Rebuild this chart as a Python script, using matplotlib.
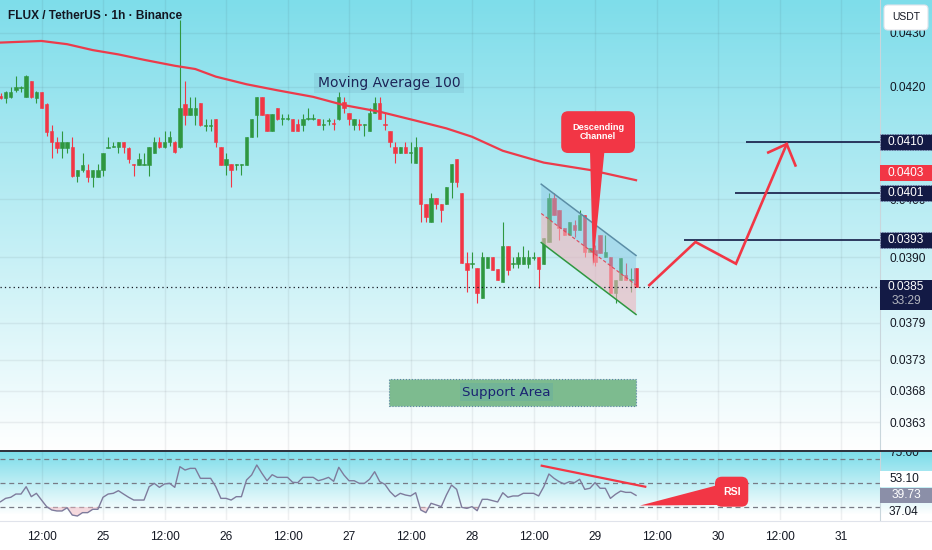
import numpy as np
import matplotlib
matplotlib.use("Agg")
import matplotlib.pyplot as plt
import matplotlib.patches as mpatches
import matplotlib.transforms as mtransforms
from matplotlib.lines import Line2D
from matplotlib.ticker import FixedLocator, NullLocator, FuncFormatter

plt.rcParams['font.family'] = ['Liberation Sans', 'DejaVu Sans']

########################
# chart data (1h bars) #
########################

first_hour = 4  # first bar: day 24, 04:00 (hours counted from day 24 00:00)

opens = [
    0.04184, 0.04180, 0.04182, 0.04195, 0.04198, 0.04182, 0.04211, 0.04180, 0.04191, 0.04169,
    0.04120, 0.04101, 0.04090, 0.04090, 0.04092, 0.04040, 0.04051, 0.04051, 0.04039, 0.04039,
    0.04051, 0.04090, 0.04092, 0.04092, 0.04101, 0.04090, 0.04062, 0.04060, 0.04060, 0.04060,
    0.04081, 0.04101, 0.04092, 0.04101, 0.04101, 0.04092, 0.04169, 0.04149, 0.04149, 0.04171,
    0.04129, 0.04129, 0.04142, 0.04092, 0.04060, 0.04062, 0.04060, 0.04060, 0.04060, 0.04110,
    0.04149, 0.04182, 0.04151, 0.04120, 0.04162, 0.04142, 0.04142, 0.04142, 0.04133, 0.04131,
    0.04142, 0.04142, 0.04142, 0.04131, 0.04138, 0.04135, 0.04142, 0.04173, 0.04153, 0.04131,
    0.04133, 0.04131, 0.04120, 0.04153, 0.04171, 0.04133, 0.04120, 0.04092, 0.04081, 0.04092,
    0.04081, 0.04063, 0.04092, 0.03991, 0.03960, 0.04002, 0.03991, 0.03991, 0.04030, 0.04070,
    0.04011, 0.03890, 0.03889, 0.03882, 0.03831, 0.03882, 0.03900, 0.03880, 0.03858, 0.03919,
    0.03889, 0.03889, 0.03889, 0.03889, 0.03899, 0.03900, 0.03889, 0.03926, 0.04002, 0.03981,
    0.03950, 0.03938, 0.03955, 0.03947, 0.03972, 0.03909, 0.03912, 0.03938, 0.03900, 0.03900,
    0.03840, 0.03862, 0.03870, 0.03862, 0.03882,
]
highs = [
    0.04189, 0.04193, 0.04200, 0.04220, 0.04202, 0.04222, 0.04211, 0.04193, 0.04191, 0.04171,
    0.04131, 0.04110, 0.04120, 0.04101, 0.04110, 0.04051, 0.04081, 0.04062, 0.04051, 0.04062,
    0.04081, 0.04110, 0.04101, 0.04101, 0.04101, 0.04092, 0.04062, 0.04081, 0.04081, 0.04092,
    0.04110, 0.04110, 0.04120, 0.04120, 0.04102, 0.04324, 0.04211, 0.04182, 0.04182, 0.04171,
    0.04142, 0.04142, 0.04142, 0.04092, 0.04081, 0.04062, 0.04062, 0.04062, 0.04110, 0.04142,
    0.04182, 0.04182, 0.04151, 0.04151, 0.04162, 0.04151, 0.04151, 0.04142, 0.04142, 0.04151,
    0.04162, 0.04151, 0.04142, 0.04142, 0.04144, 0.04142, 0.04191, 0.04182, 0.04153, 0.04142,
    0.04142, 0.04133, 0.04162, 0.04182, 0.04182, 0.04153, 0.04120, 0.04101, 0.04092, 0.04101,
    0.04101, 0.04110, 0.04092, 0.03991, 0.04011, 0.04002, 0.03991, 0.04021, 0.04062, 0.04070,
    0.04011, 0.03909, 0.03909, 0.03882, 0.03909, 0.03900, 0.03900, 0.03880, 0.03960, 0.03919,
    0.03900, 0.03909, 0.03919, 0.03912, 0.03909, 0.03900, 0.03933, 0.04011, 0.04011, 0.03981,
    0.03950, 0.03960, 0.03964, 0.03981, 0.03972, 0.03916, 0.03921, 0.03938, 0.03938, 0.03900,
    0.03862, 0.03899, 0.03890, 0.03882, 0.03882,
]
lows = [
    0.04178, 0.04171, 0.04180, 0.04191, 0.04191, 0.04182, 0.04180, 0.04171, 0.04162, 0.04111,
    0.04072, 0.04081, 0.04072, 0.04081, 0.04039, 0.04030, 0.04047, 0.04030, 0.04021, 0.04039,
    0.04040, 0.04090, 0.04092, 0.04081, 0.04081, 0.04063, 0.04040, 0.04060, 0.04060, 0.04040,
    0.04081, 0.04090, 0.04090, 0.04094, 0.04081, 0.04090, 0.04131, 0.04149, 0.04131, 0.04129,
    0.04120, 0.04120, 0.04092, 0.04060, 0.04042, 0.04021, 0.04051, 0.04042, 0.04060, 0.04110,
    0.04110, 0.04149, 0.04120, 0.04120, 0.04140, 0.04131, 0.04140, 0.04120, 0.04120, 0.04120,
    0.04140, 0.04140, 0.04131, 0.04122, 0.04131, 0.04122, 0.04140, 0.04153, 0.04131, 0.04122,
    0.04122, 0.04111, 0.04120, 0.04153, 0.04142, 0.04122, 0.04092, 0.04063, 0.04081, 0.04081,
    0.04063, 0.04063, 0.03960, 0.03960, 0.03960, 0.03983, 0.03960, 0.03991, 0.04002, 0.04021,
    0.03890, 0.03841, 0.03882, 0.03823, 0.03831, 0.03882, 0.03878, 0.03862, 0.03858, 0.03870,
    0.03882, 0.03882, 0.03889, 0.03882, 0.03895, 0.03848, 0.03889, 0.03926, 0.03972, 0.03929,
    0.03938, 0.03938, 0.03935, 0.03947, 0.03900, 0.03909, 0.03885, 0.03907, 0.03900, 0.03840,
    0.03823, 0.03862, 0.03862, 0.03841, 0.03850,
]
closes = [
    0.04180, 0.04191, 0.04191, 0.04200, 0.04200, 0.04220, 0.04182, 0.04191, 0.04162, 0.04119,
    0.04101, 0.04090, 0.04101, 0.04101, 0.04040, 0.04051, 0.04060, 0.04039, 0.04051, 0.04051,
    0.04081, 0.04092, 0.04094, 0.04101, 0.04092, 0.04070, 0.04060, 0.04070, 0.04062, 0.04092,
    0.04101, 0.04092, 0.04101, 0.04110, 0.04083, 0.04162, 0.04149, 0.04162, 0.04162, 0.04131,
    0.04131, 0.04131, 0.04101, 0.04060, 0.04070, 0.04051, 0.04062, 0.04062, 0.04110, 0.04142,
    0.04182, 0.04149, 0.04120, 0.04151, 0.04142, 0.04144, 0.04144, 0.04120, 0.04120, 0.04142,
    0.04144, 0.04144, 0.04131, 0.04133, 0.04140, 0.04133, 0.04182, 0.04162, 0.04142, 0.04142,
    0.04131, 0.04133, 0.04153, 0.04171, 0.04142, 0.04131, 0.04101, 0.04081, 0.04092, 0.04081,
    0.04083, 0.04092, 0.03991, 0.03969, 0.04002, 0.03991, 0.03981, 0.04021, 0.04062, 0.04030,
    0.03890, 0.03878, 0.03890, 0.03840, 0.03900, 0.03900, 0.03878, 0.03862, 0.03919, 0.03878,
    0.03890, 0.03900, 0.03900, 0.03900, 0.03900, 0.03880, 0.03933, 0.04002, 0.03972, 0.03950,
    0.03938, 0.03960, 0.03947, 0.03972, 0.03909, 0.03916, 0.03892, 0.03907, 0.03909, 0.03840,
    0.03862, 0.03899, 0.03862, 0.03863, 0.03850,
]

# moving average 100, read at a few bars
ma_hours = [4, 12, 17, 22, 27, 32, 38, 42, 46, 52, 58, 65, 71, 78, 85, 91, 96, 102, 110, 119, 128]
ma_values = [0.04282, 0.04285, 0.04279, 0.04268, 0.04260, 0.04250, 0.04239, 0.04233, 0.04219,
             0.04205, 0.04194, 0.04182, 0.04167, 0.04155, 0.04139, 0.04125, 0.04110, 0.04085,
             0.04064, 0.04051, 0.04033]

rsi_values = [
    34.4, 37.2, 38.1, 40.8, 40.8, 46.9, 38.6, 41.4, 35.8, 30.3,
    27.5, 26.7, 26.7, 29.4, 23.3, 22.5, 25.3, 25.3, 28.1, 28.1,
    38.1, 40.8, 41.4, 43.6, 40.8, 38.1, 35.8, 35.8, 35.8, 46.9,
    49.7, 46.4, 49.2, 49.7, 46.4, 63.6, 60.8, 62.2, 62.2, 53.9,
    53.9, 53.9, 46.9, 37.2, 37.2, 35.8, 38.6, 38.6, 52.5, 56.7,
    65.0, 58.1, 51.9, 56.9, 54.7, 54.7, 54.7, 50.6, 50.3, 54.7,
    54.7, 54.7, 51.9, 53.1, 54.7, 51.4, 63.1, 56.7, 51.9, 51.9,
    49.7, 49.7, 53.1, 59.4, 51.1, 48.9, 42.8, 38.6, 41.4, 40.0,
    39.2, 41.9, 27.5, 25.3, 33.1, 31.7, 30.3, 40.0, 48.3, 44.7,
    29.7, 28.9, 30.3, 26.9, 36.4, 36.4, 35.3, 34.2, 41.9, 38.1,
    39.2, 39.2, 41.4, 41.4, 41.4, 39.2, 46.9, 57.5, 53.9, 51.1,
    49.2, 51.1, 50.3, 53.1, 44.7, 45.6, 50.3, 45.6, 45.6, 37.2,
    40.6, 43.3, 42.2, 42.2, 39.7,
]
rsi_bands = [70, 50, 30]

price_ticks = [0.0430, 0.0420, 0.0410, 0.0400, 0.0390, 0.0379, 0.0373, 0.0368, 0.0363]
time_ticks = [12, 24, 36, 48, 60, 72, 84, 96, 108, 120, 132, 144, 156, 168]
time_labels = ['12:00', '25', '12:00', '26', '12:00', '27', '12:00', '28',
               '12:00', '29', '12:00', '30', '12:00', '31']

# drawings
target_levels = [0.0410, 0.0401, 0.0393]
target_starts = [149.5, 147.3, 137.4]
forecast_hours = [130.6, 139.6, 147.5, 157.4]
forecast_prices = [0.03853, 0.03926, 0.03889, 0.04097]
head_hours = [153.8, 157.4, 159.1]
head_prices = [0.04082, 0.04097, 0.04059]
channel_hours = [109.5, 128.0]
channel_top = [0.04026, 0.03903]
channel_mid = [0.03975, 0.03853]
channel_bottom = [0.03925, 0.03804]
support_hours = [79.8, 128.0]
support_prices = [0.03656, 0.03699]
rsi_div_hours = [109.6, 129.8]
rsi_div_values = [64.4, 46.9]
last_price = 0.0385
rsi_last = 39.73

#########
# style #
#########

W, H = 932, 550
GREEN = '#2f9740'
RED = '#f23645'
NAVY = '#131a45'
TEXT = '#131722'
CYAN = np.array([126, 221, 234]) / 255.0

opens = np.array(opens)
highs = np.array(highs)
lows = np.array(lows)
closes = np.array(closes)
rsi_values = np.array(rsi_values)
hours = first_hour + np.arange(len(closes))

fig = plt.figure(figsize=(W / 100, H / 100), dpi=100)


def fx(x):
    return x / W


def fy(y):
    return 1 - y / H


# background gradient, cyan on top fading to white, per pane
img = np.ones((H, 1, 3))
for row in range(H):
    if row <= 450:
        t = row / 450
    elif 452 <= row <= 520:
        t = min(1.0, (row - 452) / 62)
    else:
        t = 1.0
    img[row, 0] = CYAN * (1 - t) + t
bg = fig.add_axes([0, 0, 1, 1], zorder=-5)
bg.imshow(img, aspect='auto', interpolation='bilinear', extent=[0, 1, 0, 1])
bg.set_axis_off()

##############
# price pane #
##############

ax = fig.add_axes([0, fy(450), fx(880), 450 / H])
ax.patch.set_alpha(0)
ax.set_yscale('log')
ax.set_xlim(3.9, 175.6)
ax.set_ylim(0.035861, 0.043621)
ax.yaxis.set_major_locator(FixedLocator(price_ticks))
ax.yaxis.set_minor_locator(NullLocator())
ax.yaxis.set_major_formatter(FuncFormatter(lambda v, _: f'{v:.4f}'))
ax.yaxis.tick_right()
ax.set_xticks(time_ticks)
ax.tick_params(axis='x', length=0, labelbottom=False)
ax.tick_params(axis='y', length=0, pad=6.5, labelsize=8.6, labelcolor=TEXT)
ax.grid(True, color='#2a2e39', alpha=0.07, lw=1)
for s in ax.spines.values():
    s.set_visible(False)

up = closes >= opens
cols = np.where(up, GREEN, RED)
ax.vlines(hours, lows, highs, colors=cols, lw=0.8, zorder=3)
ax.bar(hours, np.abs(closes - opens), bottom=np.minimum(opens, closes), width=0.66,
       color=cols, edgecolor=cols, linewidth=0.4, zorder=4)

ax.plot(ma_hours, ma_values, color='#ec3b4b', lw=1.6, zorder=5)

# descending channel
ax.fill([channel_hours[0], channel_hours[1], channel_hours[1], channel_hours[0]],
        [channel_top[0], channel_top[1], channel_mid[1], channel_mid[0]],
        color='#86c4e2', alpha=0.45, lw=0, zorder=6)
ax.fill([channel_hours[0], channel_hours[1], channel_hours[1], channel_hours[0]],
        [channel_mid[0], channel_mid[1], channel_bottom[1], channel_bottom[0]],
        color='#efb4bc', alpha=0.6, lw=0, zorder=6)
ax.plot(channel_hours, channel_top, color='#5b8ea6', lw=1.1, zorder=7)
ax.plot(channel_hours, channel_bottom, color='#2f9740', lw=1.1, zorder=7)
ax.plot(channel_hours, channel_mid, color='#e0485a', lw=0.8, ls=(0, (3, 2)), zorder=7)

# targets and forecast path
xmax = ax.get_xlim()[1]
ax.hlines(target_levels, target_starts, xmax, colors=NAVY, lw=1.2, zorder=6)
ax.plot(forecast_hours, forecast_prices, color=RED, lw=1.9, zorder=8,
        solid_joinstyle='miter')
ax.plot(head_hours, head_prices, color=RED, lw=1.9, zorder=8, solid_joinstyle='miter')

# support area
ax.add_patch(mpatches.Rectangle((support_hours[0], support_prices[0]),
                                support_hours[1] - support_hours[0],
                                support_prices[1] - support_prices[0],
                                facecolor='#7dbb8f', edgecolor='#5b84a6', lw=0.8,
                                ls=':', zorder=5))

ax.axhline(last_price, color=TEXT, lw=0.9, ls=(0, (1, 2.5)), zorder=6)

############
# rsi pane #
############

rx = fig.add_axes([0, fy(520), fx(880), 68 / H])
rx.patch.set_alpha(0)
rx.set_xlim(ax.get_xlim())
rx.set_ylim(19.17, 75.83)
rx.set_yticks([])
rx.set_xticks(time_ticks)
rx.set_xticklabels(time_labels)
rx.tick_params(axis='x', length=0, pad=8, labelsize=8.6, labelcolor=TEXT)
rx.grid(True, axis='x', color='#2a2e39', alpha=0.07, lw=1)
for s in rx.spines.values():
    s.set_visible(False)
for lvl in rsi_bands:
    rx.axhline(lvl, color='#787b86', lw=0.9, ls=(0, (4, 3)), zorder=2)
rx.fill_between(hours, rsi_values, 30, where=rsi_values < 30, interpolate=True,
                color='#f4b7c0', alpha=0.5, lw=0, zorder=2)
rx.plot(hours, rsi_values, color='#7e7b9c', lw=1.0, zorder=3)
rx.plot(rsi_div_hours, rsi_div_values, color=RED, lw=1.6, zorder=4)

##########################
# labels, tags, callouts #
##########################

ident = mtransforms.IdentityTransform()


def to_px(axes, x, y):
    return axes.transData.transform((x, y))


def ypx(axes, value):
    # distance from the top of the figure, in pixels
    return H - to_px(axes, axes.get_xlim()[0], value)[1]


def tag(y, text, face, color='white', h=16, edge=None):
    fig.add_artist(mpatches.Rectangle((fx(880), fy(y + h / 2)), fx(52), h / H,
                                      transform=fig.transFigure, facecolor=face,
                                      edgecolor=edge or 'none', lw=0.7, ls=':', zorder=20))
    fig.text(fx(906), fy(y), text, ha='center', va='center', fontsize=8.6,
             color=color, zorder=21)


tag(ypx(ax, target_levels[0]), '0.0410', NAVY, edge='#9fb0d8')
tag(ypx(ax, ma_values[-1]) - 7, '0.0403', RED)
tag(ypx(ax, target_levels[1]), '0.0401', NAVY, edge='#9fb0d8')
tag(ypx(ax, target_levels[2]), '0.0393', NAVY, edge='#9fb0d8')
y_last = ypx(ax, last_price)
fig.add_artist(mpatches.Rectangle((fx(880), fy(y_last + 23)), fx(52), 30 / H,
                                  transform=fig.transFigure, facecolor=NAVY,
                                  edgecolor='none', zorder=20))
fig.text(fx(906), fy(y_last), '0.0385', ha='center', va='center', fontsize=8.6,
         color='white', zorder=21)
fig.text(fx(906), fy(y_last + 14), '33:29', ha='center', va='center', fontsize=8.6,
         color='#b2b5be', zorder=21)

# rsi scale labels
rsi_clip = mpatches.Rectangle((0, fy(520)), 1, 68 / H, transform=fig.transFigure)
t75 = fig.text(fx(889), fy(ypx(rx, 75)), '75.00', ha='left', va='center',
               fontsize=8.6, color=TEXT, zorder=21)
t75.set_clip_path(rsi_clip)
fig.add_artist(mpatches.Rectangle((fx(880), fy(ypx(rx, 53.1) + 8)), fx(52), 16 / H,
                                  transform=fig.transFigure, facecolor='white',
                                  edgecolor='none', zorder=20))
fig.text(fx(889), fy(ypx(rx, 53.1)), '53.10', ha='left', va='center', fontsize=8.6,
         color=TEXT, zorder=21)
y_rsi = ypx(rx, rsi_last)
tag(y_rsi, '39.73', '#8b8fa8', h=15)
fig.text(fx(889), fy(y_rsi + 17), '37.04', ha='left', va='center', fontsize=8.6,
         color=TEXT, zorder=21)

# pane separators
fig.add_artist(Line2D([0, 1], [fy(451), fy(451)], transform=fig.transFigure,
                      color='#2a2e39', lw=1.4, zorder=22))
fig.add_artist(Line2D([fx(880), fx(880)], [fy(520), 1], transform=fig.transFigure,
                      color='#c9d6dc', lw=0.8, zorder=19))
fig.add_artist(Line2D([0, 1], [fy(520.5), fy(520.5)], transform=fig.transFigure,
                      color='#e0e3eb', lw=0.8, zorder=19))

# title and currency button
fig.text(fx(8), fy(16), 'FLUX / TetherUS · 1h · Binance', ha='left', va='center',
         fontsize=8.6, fontweight='bold', color=TEXT, zorder=21)
fig.add_artist(mpatches.FancyBboxPatch((884, H - 30), 44, 25, transform=ident,
                                       boxstyle='round,pad=0,rounding_size=4',
                                       facecolor='white', edgecolor='#e0e3eb', lw=0.8,
                                       zorder=22))
fig.text(fx(906), fy(17.5), 'USDT', ha='center', va='center', fontsize=7.5,
         color=TEXT, zorder=23)

# moving average caption
fig.text(fx(389), fy(83), 'Moving Average 100', ha='center', va='center',
         family='DejaVu Sans', fontsize=10, color='#1c2457', zorder=21,
         bbox=dict(boxstyle='square,pad=0.25', facecolor='#5e8fa8', alpha=0.15,
                   edgecolor='none'))

# support caption
sx0, sy0 = to_px(ax, support_hours[0], support_prices[0])
sx1, sy1 = to_px(ax, support_hours[1], support_prices[1])
fig.text((sx0 + sx1) / 2 / W - fx(6), (sy0 + sy1) / 2 / H, 'Support Area', ha='center',
         va='center', family='DejaVu Sans', fontsize=9.6, color='#1a2472', zorder=21,
         bbox=dict(boxstyle='square,pad=0.2', facecolor='#72b497', edgecolor='none'))

# "Descending Channel" callout
bx0, by0 = to_px(ax, 113.4, 0.04081)
bx1, by1 = to_px(ax, 127.8, 0.04156)
fig.add_artist(mpatches.Polygon([to_px(ax, 119.0, 0.04090), to_px(ax, 121.9, 0.04090),
                                 to_px(ax, 119.6, 0.03885)], closed=True,
                                transform=ident, facecolor=RED, edgecolor='none',
                                zorder=15))
fig.add_artist(mpatches.FancyBboxPatch((bx0, by0), bx1 - bx0, by1 - by0, transform=ident,
                                       boxstyle='round,pad=0,rounding_size=7',
                                       facecolor=RED, edgecolor='none', zorder=15))
fig.text((bx0 + bx1) / 2 / W, (by0 + by1) / 2 / H, 'Descending\nChannel', ha='center',
         va='center', fontsize=6.6, fontweight='bold', color='white', linespacing=1.05,
         zorder=16)

# "RSI" callout
rx0, ry0 = to_px(rx, 143.4, 30.25)
rx1, ry1 = to_px(rx, 149.9, 55.25)
fig.add_artist(mpatches.Polygon([to_px(rx, 128.8, 31.25), to_px(rx, 144.0, 48.3),
                                 to_px(rx, 144.0, 31.7)], closed=True, transform=ident,
                                facecolor=RED, edgecolor='none', zorder=15))
fig.add_artist(mpatches.FancyBboxPatch((rx0, ry0), rx1 - rx0, ry1 - ry0, transform=ident,
                                       boxstyle='round,pad=0,rounding_size=7',
                                       facecolor=RED, edgecolor='none', zorder=15))
fig.text((rx0 + rx1) / 2 / W, (ry0 + ry1) / 2 / H, 'RSI', ha='center', va='center',
         fontsize=7.6, fontweight='bold', color='white', zorder=16)

fig.savefig('out.png', dpi=100)
